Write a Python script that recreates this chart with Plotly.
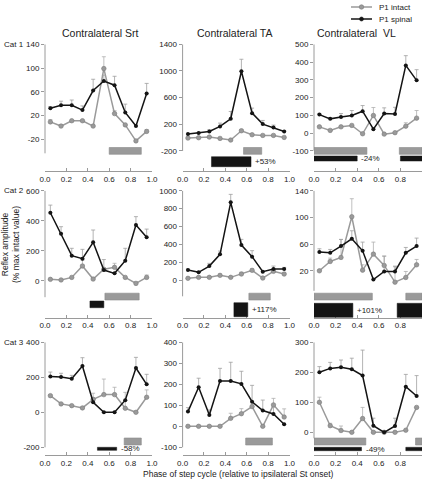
import plotly.graph_objects as go

W, H = 427, 481

# ---------------- data ----------------
phase = [0.05, 0.15, 0.25, 0.35, 0.45, 0.55, 0.65, 0.75, 0.85, 0.95]
x_ticks = [0.0, 0.2, 0.4, 0.6, 0.8, 1.0]
x_ticktext = ["0.0", "0.2", "0.4", "0.6", "0.8", "1.0"]

muscles = ["Contralateral Srt", "Contralateral TA", "Contralateral  VL"]
cats = ["Cat 1", "Cat 2", "Cat 3"]
series_names = ["P1 intact", "P1 spinal"]

# Cat 1
cat1_srt_intact = [9, 2, 11, 11, 2, 99, 23, 4, -23, -7]
cat1_srt_intact_err = [4, 0, 0, 0, 0, 20, 5, 0, 0, 3]
cat1_srt_spinal = [32, 37, 37, 29, 62, 78, 71, 25, 2, 57]
cat1_srt_spinal_err = [3, 7, 9, 7, 19, 10, 15, 14, 0, 17]

cat1_ta_intact = [-10, -5, 5, -15, -40, 100, 40, 30, 30, 0]
cat1_ta_intact_err = [0, 0, 0, 0, 0, 20, 0, 0, 0, 0]
cat1_ta_spinal = [50, 65, 90, 165, 280, 995, 365, 200, 150, 90]
cat1_ta_spinal_err = [0, 0, 25, 50, 110, 180, 75, 55, 35, 10]

cat1_vl_intact = [35, 15, 35, 43, -4, 99, -6, 2, 39, 84]
cat1_vl_intact_err = [0, 0, 0, 0, 0, 45, 0, 0, 19, 43]
cat1_vl_spinal = [104, 80, 91, 99, 123, 22, 110, 108, 381, 297]
cat1_vl_spinal_err = [5, 5, 19, 28, 32, 0, 32, 37, 55, 60]

# Cat 2
cat2_srt_intact = [9, 5, 22, 98, 11, 76, 89, 22, -18, 22]
cat2_srt_intact_err = [0, 0, 0, 40, 0, 0, 27, 0, 10, 16]
cat2_srt_spinal = [453, 313, 167, 147, 256, 71, 49, 133, 371, 289]
cat2_srt_spinal_err = [51, 47, 49, 62, 82, 70, 0, 83, 56, 55]

cat2_ta_intact = [21, 32, 32, 54, 32, 69, 110, 24, 99, 69]
cat2_ta_intact_err = [0, 0, 0, 0, 0, 20, 15, 0, 15, 10]
cat2_ta_spinal = [114, 88, 158, 289, 870, 393, 263, 95, 125, 125]
cat2_ta_spinal_err = [10, 0, 30, 37, 89, 63, 67, 0, 33, 18]

cat2_vl_intact = [20, 34, 40, 101, 21, 45, 28, 3, 10, 29]
cat2_vl_intact_err = [0, 5, 27, 27, 8, 18, 14, 23, 9, 8]
cat2_vl_spinal = [48, 47, 57, 68, 50, 7, 19, 19, 47, 57]
cat2_vl_spinal_err = [5, 5, 10, 12, 13, 0, 23, 8, 8, 12]

# Cat 3
cat3_srt_intact = [95, 48, 38, 25, 74, 101, 101, 23, 0, 86]
cat3_srt_intact_err = [5, 0, 0, 0, 35, 89, 42, 91, 0, 42]
cat3_srt_spinal = [204, 202, 192, 265, 57, 0, 0, 69, 253, 160]
cat3_srt_spinal_err = [26, 21, 19, 47, 0, 0, 0, 0, 61, 57]

cat3_ta_intact = [0, 0, 0, 0, 38, 60, 94, 0, 102, 44]
cat3_ta_intact_err = [0, 0, 0, 0, 24, 24, 0, 0, 31, 39]
cat3_ta_spinal = [70, 186, 54, 216, 216, 202, 117, 75, 59, 10]
cat3_ta_spinal_err = [19, 43, 24, 60, 89, 60, 78, 50, 32, 0]

cat3_vl_intact = [100, 22, 6, 0, 46, 0, 0, 0, 7, 83]
cat3_vl_intact_err = [17, 8, 15, 0, 37, 0, 0, 0, 0, 0]
cat3_vl_spinal = [200, 213, 217, 210, 189, 22, 0, 21, 152, 121]
cat3_vl_spinal_err = [19, 20, 24, 37, 85, 25, 0, 26, 41, 68]

# burst periods (phase intervals) and change labels
cat1_srt_intact_bursts = [(0.60, 0.90)]
cat1_srt_spinal_bursts = []
cat1_ta_intact_bursts = [(0.57, 0.74)]
cat1_ta_spinal_bursts = [(0.27, 0.64)]
cat1_vl_intact_bursts = [(0.0, 0.49), (0.79, 1.0)]
cat1_vl_spinal_bursts = [(0.0, 0.40), (0.80, 1.0)]
cat2_srt_intact_bursts = [(0.56, 0.88)]
cat2_srt_spinal_bursts = [(0.42, 0.55)]
cat2_ta_intact_bursts = [(0.62, 0.82)]
cat2_ta_spinal_bursts = [(0.48, 0.61)]
cat2_vl_intact_bursts = [(0.0, 0.54), (0.85, 1.0)]
cat2_vl_spinal_bursts = [(0.0, 0.36), (0.77, 1.0)]
cat3_srt_intact_bursts = [(0.74, 0.90)]
cat3_srt_spinal_bursts = [(0.49, 0.67)]
cat3_ta_intact_bursts = [(0.59, 0.84)]
cat3_ta_spinal_bursts = []
cat3_vl_intact_bursts = [(0.0, 0.48), (0.94, 1.0)]
cat3_vl_spinal_bursts = [(0.0, 0.44), (0.85, 1.0)]

change_labels = [["", "+53%", "-24%"], ["", "+117%", "+101%"], ["-58%", "", "-49%"]]

y_ticks = [
    [[140, 100, 60, 20, -20], [1400, 1000, 600, 200, -200], [500, 400, 300, 200, 100, 0, -100]],
    [[600, 400, 200, 0], [1000, 800, 600, 400, 200, 0], [140, 100, 60, 20]],
    [[400, 200, 0, -200], [400, 300, 200, 100, 0, -100], [300, 200, 100, 0]],
]

panels = [
    [
        (cat1_srt_intact, cat1_srt_intact_err, cat1_srt_spinal, cat1_srt_spinal_err, cat1_srt_intact_bursts, cat1_srt_spinal_bursts),
        (cat1_ta_intact, cat1_ta_intact_err, cat1_ta_spinal, cat1_ta_spinal_err, cat1_ta_intact_bursts, cat1_ta_spinal_bursts),
        (cat1_vl_intact, cat1_vl_intact_err, cat1_vl_spinal, cat1_vl_spinal_err, cat1_vl_intact_bursts, cat1_vl_spinal_bursts),
    ],
    [
        (cat2_srt_intact, cat2_srt_intact_err, cat2_srt_spinal, cat2_srt_spinal_err, cat2_srt_intact_bursts, cat2_srt_spinal_bursts),
        (cat2_ta_intact, cat2_ta_intact_err, cat2_ta_spinal, cat2_ta_spinal_err, cat2_ta_intact_bursts, cat2_ta_spinal_bursts),
        (cat2_vl_intact, cat2_vl_intact_err, cat2_vl_spinal, cat2_vl_spinal_err, cat2_vl_intact_bursts, cat2_vl_spinal_bursts),
    ],
    [
        (cat3_srt_intact, cat3_srt_intact_err, cat3_srt_spinal, cat3_srt_spinal_err, cat3_srt_intact_bursts, cat3_srt_spinal_bursts),
        (cat3_ta_intact, cat3_ta_intact_err, cat3_ta_spinal, cat3_ta_spinal_err, cat3_ta_intact_bursts, cat3_ta_spinal_bursts),
        (cat3_vl_intact, cat3_vl_intact_err, cat3_vl_spinal, cat3_vl_spinal_err, cat3_vl_intact_bursts, cat3_vl_spinal_bursts),
    ],
]

# ---------------- layout / style ----------------
FONT = "Liberation Sans, Arial, sans-serif"
TXT = "#222222"
AXC = "#9a9a9a"
GREY = "#9a9a9a"
GREY_EDGE = "#7a7a7a"
BLACK = "#141414"

col_px = [(45.0, 152.0), (182.6, 289.5), (314.0, 422.0)]       # x=0 .. x=1
row_px = [(44.3, 167.0), (190.7, 318.0), (342.3, 451.0)]        # top tick .. bottom of panel
xaxis_line_px = [171.0, 317.5, 455.0]
px_per_unit = [[0.5925, 0.0665, 0.1775], [0.15, 0.0895, 0.6675], [0.175, 0.21, 0.30]]
yline_bottom = [[-44, -205, -100], [-110, -180, -10], [-200, -100, -20]]
grey_bar_px = [(147.5, 154.3), (293.2, 300.0), (438.0, 445.0)]
black_bar_px = [[None, (156.7, 166.7), (156.0, 161.0)],
                [(301.0, 307.7), (302.7, 316.7), (303.3, 317.3)],
                [(447.3, 450.3), None, (447.3, 450.7)]]
legend_rows_px = [7.0, 19.0]
legend_line_px = (351.0, 372.0)
legend_text_px = 377.0


def py(px):
    return 1 - px / H


def pxx(px):
    return px / W


fig = go.Figure()
layout = dict(
    template="none",
    width=W, height=H, margin=dict(l=0, r=0, t=0, b=0, pad=0), autosize=False,
    paper_bgcolor="white", plot_bgcolor="rgba(0,0,0,0)",
    font=dict(family=FONT, size=8, color=TXT),
    showlegend=False,
)
shapes = []
annotations = []

for r in range(3):
    for c in range(3):
        k = r * 3 + c + 1
        xid = "x" if k == 1 else f"x{k}"
        yid = "y" if k == 1 else f"y{k}"
        intact, intact_err, spinal, spinal_err, ib, sb = panels[r][c]
        ticks = y_ticks[r][c]
        top_px, bot_px = row_px[r]
        ytop = ticks[0]
        ybot = ytop - (bot_px - top_px) / px_per_unit[r][c]

        fig.add_trace(go.Scatter(
            x=phase, y=intact, xaxis=xid, yaxis=yid, mode="lines+markers",
            name=series_names[0],
            line=dict(color=GREY, width=1.5),
            marker=dict(symbol="circle", size=4.5, color=GREY, line=dict(color=GREY_EDGE, width=0.6)),
            error_y=dict(type="data", symmetric=False, array=intact_err, arrayminus=[0] * len(intact_err),
                         color="#b0b0b0", thickness=0.8, width=2),
        ))
        fig.add_trace(go.Scatter(
            x=phase, y=spinal, xaxis=xid, yaxis=yid, mode="lines+markers",
            name=series_names[1],
            line=dict(color=BLACK, width=1.5),
            marker=dict(symbol="circle", size=4, color=BLACK),
            error_y=dict(type="data", symmetric=False, array=spinal_err, arrayminus=[0] * len(spinal_err),
                         color="#a0a0a0", thickness=0.8, width=2),
        ))

        xa = "xaxis" if k == 1 else f"xaxis{k}"
        ya = "yaxis" if k == 1 else f"yaxis{k}"
        layout[xa] = dict(
            domain=[pxx(col_px[c][0]), pxx(col_px[c][1])], range=[0, 1],
            anchor="free", position=py(xaxis_line_px[r]), automargin=False,
            showline=True, linecolor=AXC, linewidth=1,
            ticks="inside", ticklen=3, tickcolor=AXC, tickwidth=1,
            tickvals=x_ticks, ticktext=x_ticktext, tickfont=dict(size=8, color=TXT),
            showgrid=False, zeroline=False, fixedrange=True,
        )
        layout[ya] = dict(
            domain=[py(bot_px), py(top_px)], range=[ybot, ytop], anchor=xid, automargin=False,
            showline=False, ticks="outside", ticklen=3, tickcolor=AXC, tickwidth=1,
            tickvals=ticks, ticktext=[str(v) for v in ticks], tickfont=dict(size=8, color=TXT),
            showgrid=False, zeroline=False, fixedrange=True,
        )
        # vertical axis line (spans only the tick range)
        shapes.append(dict(type="line", xref=f"{xid} domain", yref=yid, x0=0, x1=0,
                           y0=yline_bottom[r][c], y1=ytop, line=dict(color=AXC, width=1)))
        # burst bars
        gt, gb = grey_bar_px[r]
        for (a, b) in ib:
            shapes.append(dict(type="rect", xref=xid, yref="paper", x0=a, x1=b, y0=py(gb), y1=py(gt),
                               fillcolor=GREY, line=dict(color="#8a8a8a", width=0.6)))
        bb = black_bar_px[r][c]
        for i, (a, b) in enumerate(sb):
            shapes.append(dict(type="rect", xref=xid, yref="paper", x0=a, x1=b, y0=py(bb[1]), y1=py(bb[0]),
                               fillcolor=BLACK, line=dict(color=BLACK, width=0.5)))
            if i == 0 and change_labels[r][c]:
                annotations.append(dict(x=b, y=py((bb[0] + bb[1]) / 2), xref=xid, yref="paper",
                                        text=change_labels[r][c], showarrow=False, xanchor="left",
                                        yanchor="middle", xshift=2, font=dict(size=8, color=TXT)))

# column titles
title_x = [100, 235, 356]
for c in range(3):
    annotations.append(dict(x=pxx(title_x[c]), y=py(33), xref="paper", yref="paper", text=muscles[c],
                            showarrow=False, xanchor="center", yanchor="middle",
                            font=dict(size=10.5, color=TXT)))
# cat labels
for r in range(3):
    annotations.append(dict(x=pxx(2), y=py(row_px[r][0]), xref="paper", yref="paper", text=cats[r],
                            showarrow=False, xanchor="left", yanchor="middle", font=dict(size=8, color=TXT)))
# axis titles
annotations.append(dict(x=pxx(10), y=py(245), xref="paper", yref="paper",
                        text="Reflex amplitude<br>(% max intact value)", textangle=-90,
                        showarrow=False, xanchor="center", yanchor="middle", font=dict(size=8.5, color=TXT)))
annotations.append(dict(x=pxx(239), y=py(474), xref="paper", yref="paper",
                        text="Phase of step cycle (relative to ipsilateral St onset)",
                        showarrow=False, xanchor="center", yanchor="middle", font=dict(size=8.5, color=TXT)))

# legend (drawn manually)
leg_styles = [(GREY, GREY_EDGE, 4.5), (BLACK, BLACK, 4.0)]
for i, name in enumerate(series_names):
    col, edge, msize = leg_styles[i]
    yy = py(legend_rows_px[i])
    shapes.append(dict(type="line", xref="paper", yref="paper", x0=pxx(legend_line_px[0]),
                       x1=pxx(legend_line_px[1]), y0=yy, y1=yy, line=dict(color=col, width=1.5)))
    cx = (legend_line_px[0] + legend_line_px[1]) / 2
    rr = msize / 2
    shapes.append(dict(type="circle", xref="paper", yref="paper", x0=pxx(cx - rr), x1=pxx(cx + rr),
                       y0=py(legend_rows_px[i] + rr), y1=py(legend_rows_px[i] - rr),
                       fillcolor=col, line=dict(color=edge, width=0.6)))
    annotations.append(dict(x=pxx(legend_text_px), y=yy, xref="paper", yref="paper", text=name,
                            showarrow=False, xanchor="left", yanchor="middle", font=dict(size=8, color=TXT)))

layout["shapes"] = shapes
layout["annotations"] = annotations
fig.update_layout(**layout)
fig.write_html("out.html", config={"displayModeBar": False, "staticPlot": True},
               post_script="document.body.style.margin='0';document.body.style.overflow='hidden';")
